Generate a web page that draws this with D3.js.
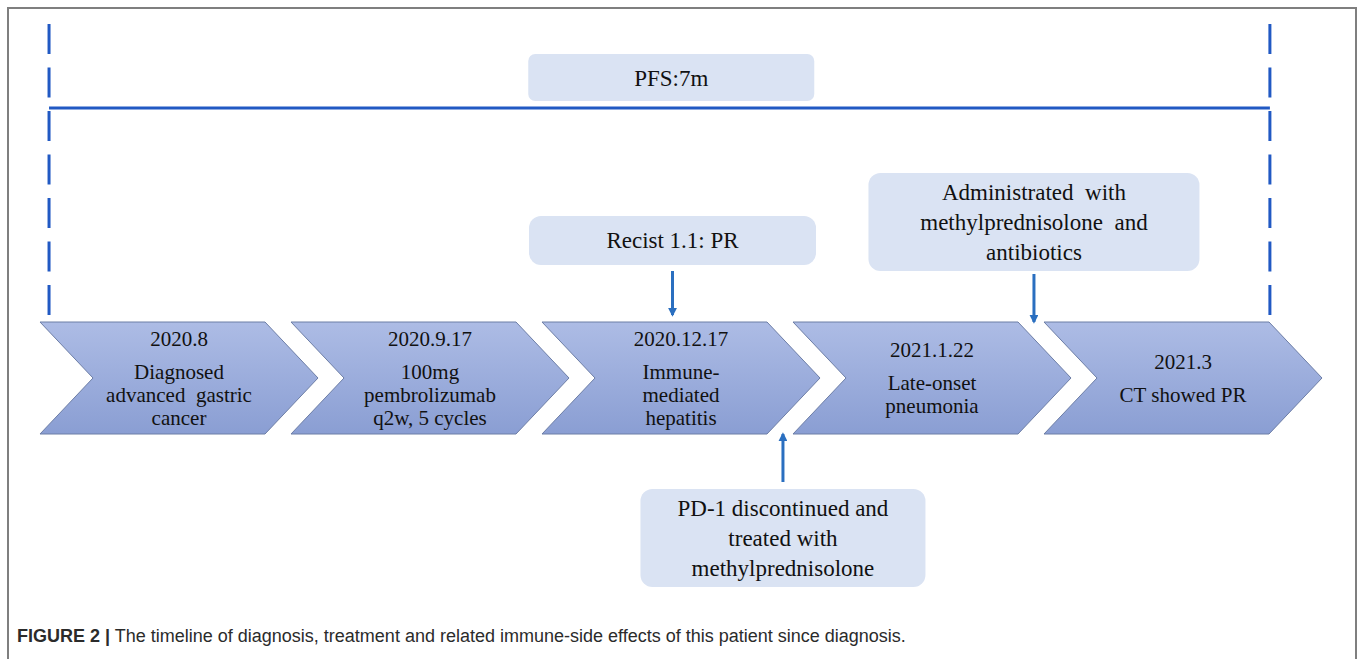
<!DOCTYPE html>
<html>
<head>
<meta charset="utf-8">
<script src="https://cdn.jsdelivr.net/npm/d3@7"></script>
<style>
  body { margin: 0; background: #fff; }
  svg { display: block; }
</style>
</head>
<body>
<div id="chart"></div>
<script>
// timeline events (one chevron each)
const eventDates = ["2020.8", "2020.9.17", "2020.12.17", "2021.1.22", "2021.3"];
const eventLines = [
  ["Diagnosed", "advanced\u00a0\u00a0gastric", "cancer"],
  ["100mg", "pembrolizumab", "q2w, 5 cycles"],
  ["Immune-", "mediated", "hepatitis"],
  ["Late-onset", "pneumonia"],
  ["CT showed PR"]
];

// annotation boxes: text, anchor on the timeline (event units), side
const noteTexts = [
  ["Recist 1.1: PR"],
  ["Administrated\u00a0\u00a0with", "methylprednisolone\u00a0\u00a0and", "antibiotics"],
  ["PD-1 discontinued and", "treated with", "methylprednisolone"]
];
const noteAnchors = [2.52, 3.96, 2.96];
const noteSides = ["above", "above", "below"];

// progression-free survival bracket
const pfsLabel = "PFS:7m";
const pfsSpan = [0.036, 4.9];
const pfsAnchor = 2.515;

const captionBold = "FIGURE 2 |";
const captionText = " The timeline of diagnosis, treatment and related immune-side effects of this patient since diagnosis.";

const width = 1362, height = 659;
const chevW = 225, chevTip = 53;
const chevTop = 322, chevBot = 434;
const midY = (chevTop + chevBot) / 2;

const x = d3.scaleLinear().domain([0, 5]).range([40, 40 + 251 * 5]);

const svg = d3.select("#chart").append("svg")
  .attr("width", width)
  .attr("height", height);

const defs = svg.append("defs");
const grad = defs.append("linearGradient")
  .attr("id", "chevFill")
  .attr("x1", 0).attr("y1", 0).attr("x2", 0).attr("y2", 1);
grad.append("stop").attr("offset", "0%").attr("stop-color", "#adbce5");
grad.append("stop").attr("offset", "100%").attr("stop-color", "#8a9ed3");

defs.append("marker")
  .attr("id", "arrowHead")
  .attr("viewBox", "0 0 10 10")
  .attr("refX", 8).attr("refY", 5)
  .attr("markerWidth", 3).attr("markerHeight", 3)
  .attr("orient", "auto")
  .append("path")
  .attr("d", "M0,0 L10,5 L0,10 Z")
  .attr("fill", "#2a6fc0");

// figure frame (no bottom edge)
svg.append("path")
  .attr("d", `M8,${height} V8 H1356 V${height}`)
  .attr("fill", "none")
  .attr("stroke", "#7f7f7f")
  .attr("stroke-width", 2);

// PFS bracket
const blue = "#2159c3";
svg.selectAll("line.pfs-dash")
  .data(pfsSpan)
  .enter()
  .append("line")
  .attr("class", "pfs-dash")
  .attr("x1", d => x(d)).attr("x2", d => x(d))
  .attr("y1", 24).attr("y2", 315)
  .attr("stroke", blue)
  .attr("stroke-width", 3)
  .attr("stroke-dasharray", "30 13.5");

svg.append("line")
  .attr("x1", x(pfsSpan[0])).attr("x2", x(pfsSpan[1]))
  .attr("y1", 108).attr("y2", 108)
  .attr("stroke", blue)
  .attr("stroke-width", 3);

const boxFill = "#dae3f3";
const serif = "'Liberation Serif', 'Times New Roman', Times, 'DejaVu Serif', serif";

const pfsCx = x(pfsAnchor);
svg.append("rect")
  .attr("x", pfsCx - 143).attr("y", 54)
  .attr("width", 286).attr("height", 47)
  .attr("rx", 7)
  .attr("fill", boxFill);
svg.append("text")
  .attr("x", pfsCx).attr("y", 78)
  .attr("text-anchor", "middle")
  .attr("dominant-baseline", "central")
  .style("font-family", serif)
  .style("font-size", "23px")
  .attr("fill", "#111")
  .text(pfsLabel);

// chevrons
const events = eventDates.map((d, i) => ({ date: d, lines: eventLines[i], i }));

const chev = svg.selectAll("g.chev")
  .data(events)
  .enter()
  .append("g")
  .attr("class", "chev")
  .attr("transform", d => `translate(${x(d.i)},0)`);

chev.append("path")
  .attr("d", `M0,${chevTop} H${chevW} L${chevW + chevTip},${midY} L${chevW},${chevBot} H0 L${chevTip},${midY} Z`)
  .attr("fill", "url(#chevFill)")
  .attr("stroke", "#6d7ea6")
  .attr("stroke-width", 1);

chev.each(function(d) {
  const g = d3.select(this);
  const cx = (chevW + chevTip) / 2;
  const n = d.lines.length;
  // block = date + gap + description lines
  const lh = 23, gap = 33;
  const total = gap + (n - 1) * lh;
  const y0 = midY - total / 2;
  const t = g.append("text")
    .attr("text-anchor", "middle")
    .style("font-family", serif)
    .style("font-size", "21px")
    .attr("fill", "#111");
  t.append("tspan")
    .attr("x", cx).attr("y", y0)
    .attr("dominant-baseline", "central")
    .text(d.date);
  d.lines.forEach((l, k) => {
    t.append("tspan")
      .attr("x", cx).attr("y", y0 + gap + k * lh)
      .attr("dominant-baseline", "central")
      .text(l);
  });
});

// annotation boxes with arrows
const notes = noteTexts.map((t, i) => ({ lines: t, anchor: noteAnchors[i], side: noteSides[i] }));
const noteW = [287, 331, 285];
const noteBox = [
  { y: 216, h: 49, a1: 271, a2: 315 },
  { y: 173, h: 98, a1: 274, a2: 322 },
  { y: 489, h: 98, a1: 482, a2: 434 }
];

const note = svg.selectAll("g.note")
  .data(notes)
  .enter()
  .append("g")
  .attr("class", "note");

note.each(function(d, i) {
  const g = d3.select(this);
  const cx = x(d.anchor);
  const b = noteBox[i];
  g.append("rect")
    .attr("x", cx - noteW[i] / 2).attr("y", b.y)
    .attr("width", noteW[i]).attr("height", b.h)
    .attr("rx", 12)
    .attr("fill", boxFill);
  const t = g.append("text")
    .attr("text-anchor", "middle")
    .style("font-family", serif)
    .style("font-size", "23px")
    .attr("fill", "#111");
  const lh = 30;
  const yc = b.y + b.h / 2 - (d.lines.length - 1) * lh / 2;
  d.lines.forEach((l, k) => {
    t.append("tspan")
      .attr("x", cx).attr("y", yc + k * lh)
      .attr("dominant-baseline", "central")
      .text(l);
  });
  g.append("line")
    .attr("x1", cx).attr("x2", cx)
    .attr("y1", b.a1).attr("y2", b.a2)
    .attr("stroke", "#2a6fc0")
    .attr("stroke-width", 3)
    .attr("marker-end", "url(#arrowHead)");
});

// caption
const cap = svg.append("text")
  .attr("x", 17).attr("y", 642)
  .style("font-family", "'Liberation Sans', Arial, Helvetica, sans-serif")
  .style("font-size", "18px")
  .attr("fill", "#2b2b2b");
cap.append("tspan").style("font-weight", "bold").text(captionBold);
cap.append("tspan").text(captionText);
</script>
</body>
</html>
